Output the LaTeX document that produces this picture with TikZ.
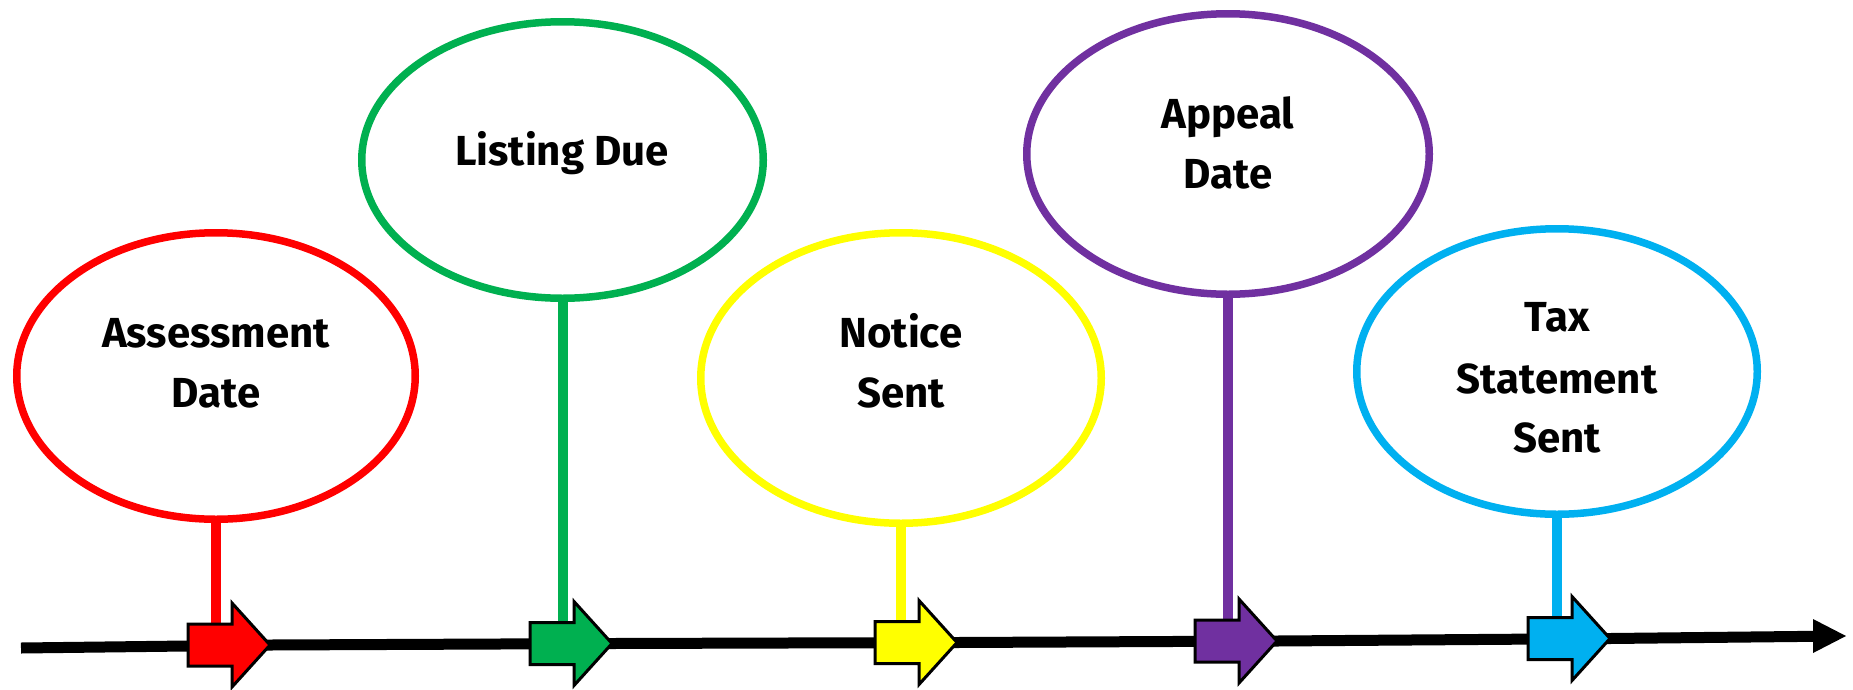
\documentclass[tikz,border=0pt]{standalone}
\usepackage{fontspec}
\setmainfont{Fira Sans}
\usetikzlibrary{shapes.geometric}
\definecolor{cred}{HTML}{FF0000}
\definecolor{cgreen}{HTML}{00B050}
\definecolor{cyellow}{HTML}{FFFF00}
\definecolor{cpurple}{HTML}{7030A0}
\definecolor{cblue}{HTML}{00B0F0}
\begin{document}
\begin{tikzpicture}[x=1pt,y=-1pt,
  bubble/.style={ellipse, draw=#1, line width=7.5pt, inner sep=0pt, outer sep=0pt},
  stemline/.style={draw=#1, line width=10pt},
  blockarrow/.style={fill=#1, draw=black, line width=3pt, line join=miter},
  timeline/.style={draw=black, line width=11pt},
  lbl/.style={font=\fontsize{42}{50}\selectfont\bfseries, anchor=base, inner sep=0pt},
  ]
\useasboundingbox (0,0) rectangle (1853,689);
\fill[white] (0,0) rectangle (1853,689);

% bubbles
\node[bubble=cred,    minimum width=398.5pt, minimum height=286.5pt] (e1) at (216,376) {};
\node[bubble=cgreen,  minimum width=401.5pt, minimum height=276.5pt] (e2) at (562.5,160) {};
\node[bubble=cyellow, minimum width=400.5pt, minimum height=290.5pt] (e3) at (901,378) {};
\node[bubble=cpurple, minimum width=402.5pt, minimum height=280.5pt] (e4) at (1228,154) {};
\node[bubble=cblue,   minimum width=400.5pt, minimum height=285.5pt] (e5) at (1557,371.5) {};

% labels
\node[lbl] (t1a) at (216,347) {Assessment};
\node[lbl] (t1b) at (216,407) {Date};
\node[lbl] (t2a) at (562,165) {Listing Due};
\node[lbl] (t3a) at (901,347) {Notice};
\node[lbl] (t3b) at (901,407) {Sent};
\node[lbl] (t4a) at (1228,128) {Appeal};
\node[lbl] (t4b) at (1228,188) {Date};
\node[lbl] (t5a) at (1557,331) {Tax};
\node[lbl] (t5b) at (1557,393) {Statement};
\node[lbl] (t5c) at (1557,452) {Sent};

% timeline points
\coordinate (ls) at (21,648);
\coordinate (a1) at (270,645);
\coordinate (a2) at (612,643.5);
\coordinate (a3) at (957,642.5);
\coordinate (a4) at (1277,641);
\coordinate (a5) at (1610,638.5);
\coordinate (lb) at (1815,636.3);
\coordinate (le) at (1846,636);

% stems
\draw[stemline=cred]    (e1.south) -- (e1.south |- a1);
\draw[stemline=cgreen]  (e2.south) -- (e2.south |- a2);
\draw[stemline=cyellow] (e3.south) -- (e3.south |- a3);
\draw[stemline=cpurple] (e4.south) -- (e4.south |- a4);
\draw[stemline=cblue]   (e5.south) -- (e5.south |- a5);

% timeline
\draw[timeline] (ls) -- (a1) -- (a2) -- (a3) -- (a4) -- (a5) -- (lb);
\fill[black] (le) -- ++(-33,-17) -- ++(0,34) -- cycle;

% block arrows
\foreach \p/\c in {a1/cred, a2/cgreen, a3/cyellow, a4/cpurple, a5/cblue}{
  \draw[blockarrow=\c] (\p) -- ++(-38,-42) -- ++(0,21) -- ++(-44,0) -- ++(0,42) -- ++(44,0) -- ++(0,21) -- cycle;
}
\end{tikzpicture}
\end{document}
